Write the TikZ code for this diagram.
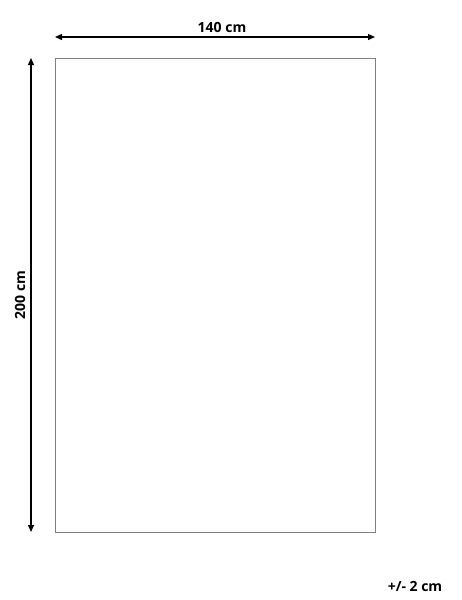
\documentclass[tikz,border=0pt]{standalone}
\usepackage{fontspec}
\setmainfont{Open Sans}
\usetikzlibrary{arrows.meta}

\begin{document}
\begin{tikzpicture}[x=1pt,y=-1pt,
    dim/.style={{Triangle[length=7pt,width=6pt]}-{Triangle[length=7pt,width=6pt]}, line width=1.3pt, black},
    lbl/.style={font=\bfseries\fontsize{14}{16}\selectfont, inner sep=0pt}]
        \useasboundingbox (0,0) rectangle (461,600);
        \coordinate (tl) at (55,58);
        \coordinate (br) at (375,532);
        \draw[gray, line width=1pt] (tl) rectangle (br);
        \coordinate (wl) at (55,37);
        \coordinate (wr) at (375,37);
        \draw[dim] (wl) -- (wr);
        \coordinate (ht) at (31,58);
        \coordinate (hb) at (31,532);
        \draw[dim] (ht) -- (hb);
        \node[lbl] (width) at (222,27) {140 cm};
        \node[lbl, rotate=90] (height) at (20,295) {200 cm};
        \node[lbl] (tol) at (415,586) {+/- 2 cm};
    \end{tikzpicture}
\end{document}
